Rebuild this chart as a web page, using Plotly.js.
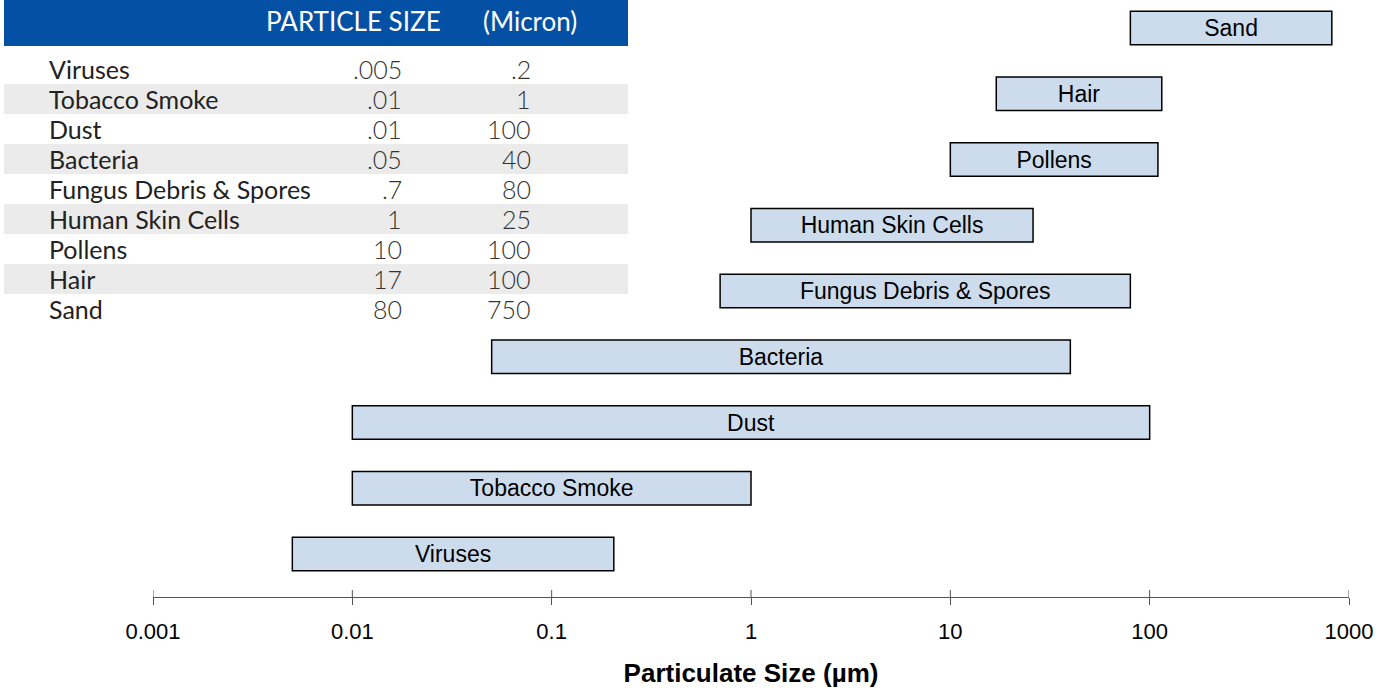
<!DOCTYPE html>
<html>
<head>
<meta charset="utf-8">
<script src="https://cdn.plot.ly/plotly-3.0.1.min.js"></script>
<style>html,body{margin:0;padding:0;background:#fff;}#chart{width:1391px;height:692px;}</style>
</head>
<body>
<div id="chart"></div>
<script>
// ---- data ----
var categories = ['Viruses','Tobacco Smoke','Dust','Bacteria','Fungus Debris & Spores','Human Skin Cells','Pollens','Hair','Sand'];
var tableMin = ['.005','.01','.01','.05','.7','1','10','17','80'];
var tableMax = ['.2','1','100','40','80','25','100','100','750'];
var barStart = [0.005, 0.01, 0.01, 0.05, 0.7, 1, 10, 17, 80];
var barEnd   = [0.205, 1, 100, 40, 80, 26, 110, 115, 820];
var tickVals = [0.001, 0.01, 0.1, 1, 10, 100, 1000];
var tickText = ['0.001','0.01','0.1','1','10','100','1000'];
var headerLabels = ['PARTICLE SIZE','(Micron)'];

// ---- geometry helpers (pixel -> paper) ----
var W = 1391, H = 692, PLOT_H = 597;
function px(x){ return x / W; }
function py(y){ return 1 - y / PLOT_H; }

var idx = categories.map(function(_, i){ return i; });
var trace = {
  type: 'bar',
  orientation: 'h',
  y: idx,
  base: barStart,
  x: barEnd.map(function(e, i){ return e - barStart[i]; }),
  width: 0.51,
  text: categories,
  textposition: 'inside',
  insidetextanchor: 'middle',
  constraintext: 'none',
  textangle: 0,
  textfont: {family: 'Liberation Sans, Arial, sans-serif', size: 23, color: '#000'},
  marker: {color: '#cddced', line: {color: '#000', width: 1.5}},
  hoverinfo: 'skip'
};

var shapes = [];
var annotations = [];
var tableFont = 'Lato, "Open Sans", sans-serif';

// header
shapes.push({type:'rect', xref:'paper', yref:'paper', x0:px(4), x1:px(628), y0:py(0), y1:py(46),
  fillcolor:'#0450a4', line:{width:0}, layer:'below'});
annotations.push({xref:'paper', yref:'paper', x:px(353), y:py(21), text:headerLabels[0], showarrow:false,
  xanchor:'center', yanchor:'middle', font:{family:tableFont, size:26, color:'#fff'}});
annotations.push({xref:'paper', yref:'paper', x:px(530), y:py(21), text:headerLabels[1], showarrow:false,
  xanchor:'center', yanchor:'middle', font:{family:tableFont, size:26, color:'#fff'}});

// rows
categories.forEach(function(c, i){
  var cy = 69 + 30 * i;
  if (i % 2 === 1) {
    shapes.push({type:'rect', xref:'paper', yref:'paper', x0:px(4), x1:px(628), y0:py(cy-15), y1:py(cy+15),
      fillcolor:'#ebebeb', line:{width:0}, layer:'below'});
  }
  annotations.push({xref:'paper', yref:'paper', x:px(47), y:py(cy), text:c, showarrow:false,
    xanchor:'left', yanchor:'middle', font:{family:tableFont, size:25, color:'#222'}});
  annotations.push({xref:'paper', yref:'paper', x:px(404), y:py(cy), text:tableMin[i], showarrow:false,
    xanchor:'right', yanchor:'middle', font:{family:tableFont, size:25, color:'#333', weight:300}});
  annotations.push({xref:'paper', yref:'paper', x:px(533), y:py(cy), text:tableMax[i], showarrow:false,
    xanchor:'right', yanchor:'middle', font:{family:tableFont, size:25, color:'#333', weight:300}});
});

// upper half of the crossing tick marks
tickVals.forEach(function(v){
  shapes.push({type:'line', xref:'x', yref:'paper', x0:v, x1:v, y0:0, y1:7/PLOT_H,
    line:{color:'#555', width:1}, layer:'above'});
});

var layout = {
  width: W, height: H,
  margin: {l:0, r:0, t:0, b:H - PLOT_H, pad:0},
  paper_bgcolor: '#fff',
  plot_bgcolor: 'rgba(0,0,0,0)',
  showlegend: false,
  xaxis: {
    type: 'log', range: [-3, 3], domain: [px(153), px(1349)],
    tickvals: tickVals, ticktext: tickText,
    ticks: 'outside', ticklen: 7, tickwidth: 1, tickcolor: '#555',
    showline: true, linecolor: '#555', linewidth: 1,
    showgrid: false, zeroline: false,
    tickfont: {family: '"Liberation Sans", Arial, sans-serif', size: 22, color: '#000'},
    ticklabelstandoff: 8,
    title: {text: 'Particulate Size (µm)', standoff: 20,
      font: {family: '"Liberation Sans", Arial, sans-serif', size: 26, color: '#000', weight: 'bold'}},
    fixedrange: true
  },
  yaxis: {
    range: [-0.654, 8.426], showticklabels: false, ticks: '', showgrid: false,
    zeroline: false, showline: false, fixedrange: true
  },
  shapes: shapes,
  annotations: annotations
};

Plotly.newPlot('chart', [trace], layout, {displayModeBar: false, staticPlot: true});
</script>
</body>
</html>
